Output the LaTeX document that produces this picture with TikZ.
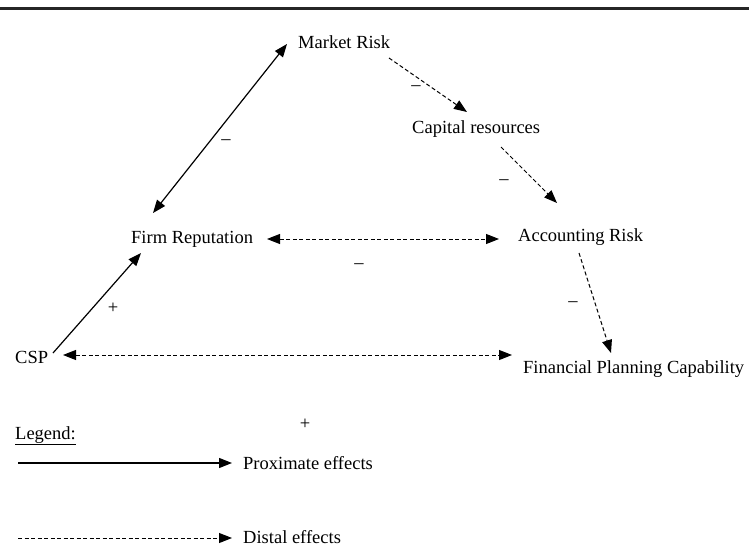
\documentclass[tikz,border=0pt]{standalone}
\usepackage{fontspec}
\setmainfont{Liberation Serif}
\usetikzlibrary{arrows.meta,calc}
\begin{document}
\begin{tikzpicture}[x=1pt,y=1pt,
  lbl/.style={inner sep=0pt,anchor=base west,font=\fontsize{18.5}{22}\selectfont},
  sgn/.style={inner sep=0pt,font=\fontsize{18.5}{22}\selectfont},
  tip/.style={-{Triangle[length=13pt,width=10pt]}},
  both/.style={{Triangle[length=13pt,width=10pt]}-{Triangle[length=13pt,width=10pt]}},
  solidln/.style={line width=1.2pt},
  dashln/.style={line width=1pt,dash pattern=on 4pt off 2.5pt}]
\useasboundingbox (0,0) rectangle (749,550);
\coordinate (ruleL) at (0,541);
\coordinate (ruleR) at (749,541);
\draw[line width=3pt,black!85] (ruleL) -- (ruleR);

\node[lbl] (mr) at (298,501) {Market Risk};
\node[lbl] (cr) at (412,416) {Capital resources};
\node[lbl] (fr) at (131,307) {Firm Reputation};
\node[lbl] (ar) at (518,309) {Accounting Risk};
\node[lbl] (csp) at (15,187) {CSP};
\node[lbl] (fpc) at (523,177) {Financial Planning Capability};
\node[lbl] (leg) at (15,111) {\underline{Legend:}};
\node[lbl] (prox) at (243,81) {Proximate effects};
\node[lbl] (dist) at (243,7) {Distal effects};

% connectors
\draw[solidln,both] ($(mr.base west)+(-11,5)$) -- ($(fr.base west)+(22,30)$);
\draw[dashln,tip] ($(mr.base west)+(91,-9)$) -- ($(cr.base west)+(55,22)$);
\draw[dashln,tip] ($(cr.base west)+(89,-13)$) -- ($(ar.base west)+(39,38)$);
\draw[dashln,both] ($(fr.base west)+(136,4)$) -- ($(ar.base west)+(-19,2)$);
\draw[dashln,tip] ($(ar.base west)+(61,-12)$) -- ($(fpc.base west)+(88,20)$);
\draw[solidln,tip] ($(csp.base west)+(38,10)$) -- ($(fr.base west)+(10,-10)$);
\draw[dashln,both] ($(csp.base west)+(48,8)$) -- ($(fpc.base west)+(-11,18)$);

% legend arrows
\coordinate (ps) at ($(prox.base west)+(-225,6)$);
\coordinate (ds) at ($(dist.base west)+(-225,5)$);
\draw[solidln,tip] (ps) -- ($(prox.base west)+(-11,6)$);
\draw[dashln,tip] (ds) -- ($(dist.base west)+(-11,5)$);

% signs
\node[sgn] (s1) at (226,408) {–};
\node[sgn] (s2) at (416,462) {–};
\node[sgn] (s3) at (504,368) {–};
\node[sgn] (s4) at (359,284) {–};
\node[sgn] (s5) at (573,246) {–};
\node[sgn] (s6) at (113,242) {+};
\node[sgn] (s7) at (305,126) {+};
\end{tikzpicture}
\end{document}
